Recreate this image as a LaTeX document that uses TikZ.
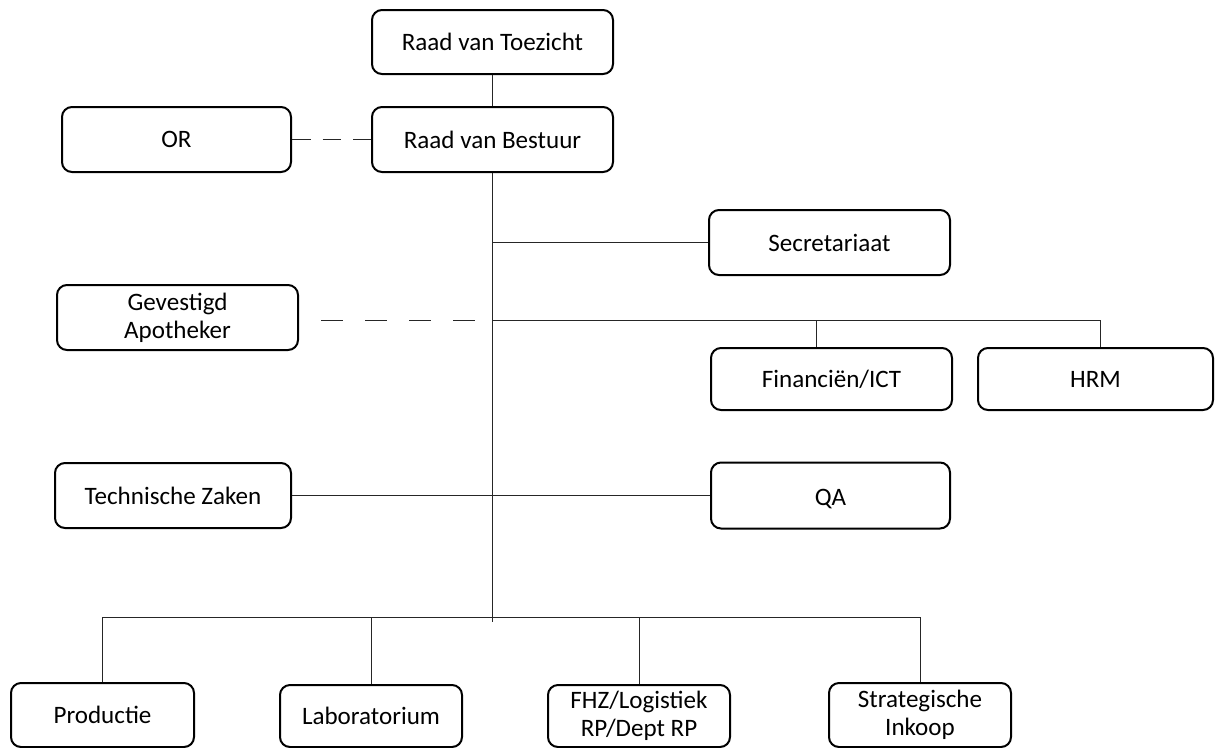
\documentclass[tikz,border=0pt]{standalone}
\usepackage{fontspec}
\setmainfont{Carlito}

\tikzset{
  orgbox/.style 2 args={draw, line width=1.5pt, rounded corners=7.5pt, align=center, inner sep=0pt,
    minimum width=#1*0.75pt, minimum height=#2*0.75pt, font=\fontsize{18.8}{21}\selectfont},
  link/.style={line width=0.75pt, color=black!85},
  orlink/.style={link, dash pattern=on 14pt off 9pt},
  galink/.style={link, dash pattern=on 16.5pt off 16.5pt, dash phase=16.5pt}
}

\begin{document}
\begin{tikzpicture}[x=0.75pt,y=0.75pt,yscale=-1,xscale=1]
\useasboundingbox (0,0) rectangle (1216,747);
\node[orgbox={241}{64}] (rvt) at (492.5,42) {Raad van Toezicht};
\node[orgbox={229}{65}] (or) at (176.5,139.5) {OR};
\node[orgbox={241}{65}] (rvb) at (492.5,139.5) {Raad van Bestuur};
\node[orgbox={241}{65}] (sec) at (829.5,242.5) {Secretariaat};
\node[orgbox={241}{65}] (ga) at (177.5,317.5) {Gevestigd\\Apotheker};
\node[orgbox={241}{62}] (fin) at (831.5,379) {Financiën/ICT};
\node[orgbox={235}{62}] (hrm) at (1095.5,379) {HRM};
\node[orgbox={236}{65}] (tz) at (173,495.5) {Technische Zaken};
\node[orgbox={239}{66}] (qa) at (830.5,495.5) {\raisebox{-2.5pt}[9.5pt][0pt]{QA}};
\node[orgbox={183}{64}] (prod) at (102.5,715) {Productie};
\node[orgbox={182}{62}] (lab) at (371,716) {Laboratorium};
\node[orgbox={182}{62}] (fhz) at (639,716) {FHZ/Logistiek\\RP/Dept RP};
\node[orgbox={182}{64}] (strat) at (920,715) {Strategische\\Inkoop};
\coordinate (spinebot) at (492.5,622);
\coordinate (staff) at (0,320);
\coordinate (bus) at (0,617);
\draw[link] (rvt) -- (rvb);
\draw[link] (rvb) -- (spinebot);
\draw[orlink] (or) -- (rvb);
\draw[link] (spinebot |- sec.west) -- (sec.west);
\draw[galink] (ga.east |- staff) -- (spinebot |- staff);
\draw[link] (spinebot |- staff) -- ([xshift=3.4pt]hrm.north |- staff) -- ([xshift=3.4pt]hrm.north);
\draw[link] ([xshift=-11pt]fin.north |- staff) -- ([xshift=-11pt]fin.north);
\draw[link] (tz) -- (qa);
\draw[link] (prod.north) -- (prod.north |- bus) -- (strat.north |- bus) -- (strat.north);
\draw[link] (lab.north) -- (lab.north |- bus);
\draw[link] (fhz.north) -- (fhz.north |- bus);
\end{tikzpicture}
\end{document}
